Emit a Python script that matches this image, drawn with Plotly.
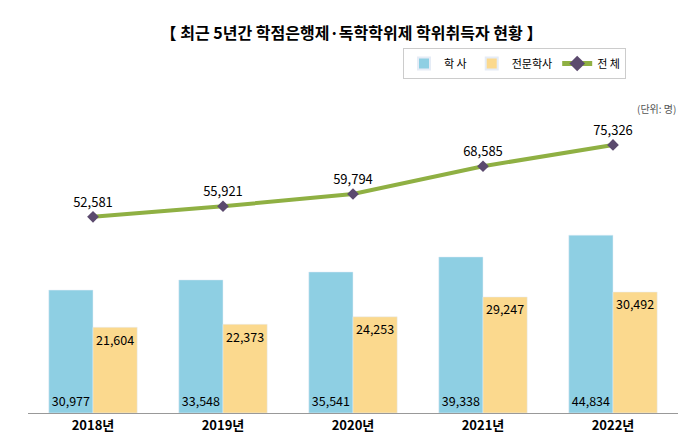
import plotly.graph_objects as go

years = ["2018년", "2019년", "2020년", "2021년", "2022년"]
bachelor = [30977, 33548, 35541, 39338, 44834]
associate = [21604, 22373, 24253, 29247, 30492]
total = [52581, 55921, 59794, 68585, 75326]

BLUE = "#8ecfe3"
YELLOW = "#fbd98e"
GREEN = "#8fb043"
FONT = "Noto Sans CJK KR"

fig = go.Figure()
fig.add_trace(go.Bar(
    x=years, y=bachelor, name="학 사", marker_color=BLUE,
    text=[f"{v:,}" for v in bachelor], textposition="inside", textangle=0,
    insidetextanchor="start", textfont=dict(size=13, color="black"),
))
fig.add_trace(go.Bar(
    x=years, y=associate, name="전문학사", marker_color=YELLOW,
    text=[f"{v:,}" for v in associate], textposition="inside", textangle=0,
    insidetextanchor="end", textfont=dict(size=13, color="black"),
))
fig.add_trace(go.Scatter(
    x=years, y=total, name="전 체", yaxis="y2", mode="lines+markers+text",
    line=dict(color=GREEN, width=4),
    marker=dict(symbol="diamond", size=9, color="#5b4a6e"),
    text=[f"{v:,}" for v in total], textposition="top center",
    textfont=dict(size=13, color="black"),
))

fig.update_layout(
    width=687, height=440,
    paper_bgcolor="white", plot_bgcolor="white",
    font=dict(family=FONT, color="black"),
    margin=dict(l=20, r=17, t=40, b=35),
    barmode="group", bargap=0.32, bargroupgap=0,
    title=dict(text="<b>【 최근 5년간 학점은행제·독학학위제 학위취득자 현황 】</b>",
               x=0.5, y=0.955, font=dict(size=16)),
    xaxis=dict(showline=True, linecolor="#999", tickfont=dict(size=13, family=FONT),
               ticks="", showgrid=False),
    yaxis=dict(range=[0, 92000], visible=False),
    yaxis2=dict(range=[-9500, 106000], overlaying="y", visible=False),
    showlegend=True,
    legend=dict(orientation="h", x=0.92, y=1.0, xanchor="right", yanchor="top",
                bordercolor="#ccc", borderwidth=1, font=dict(size=11),
                itemsizing="constant"),
    annotations=[dict(text="(단위: 명)", x=1.0, y=0.86, xref="paper", yref="paper",
                      xanchor="right", showarrow=False, font=dict(size=10, color="#555"))],
)
fig.update_xaxes(tickprefix="<b>", ticksuffix="</b>")

fig.write_html("out.html")
